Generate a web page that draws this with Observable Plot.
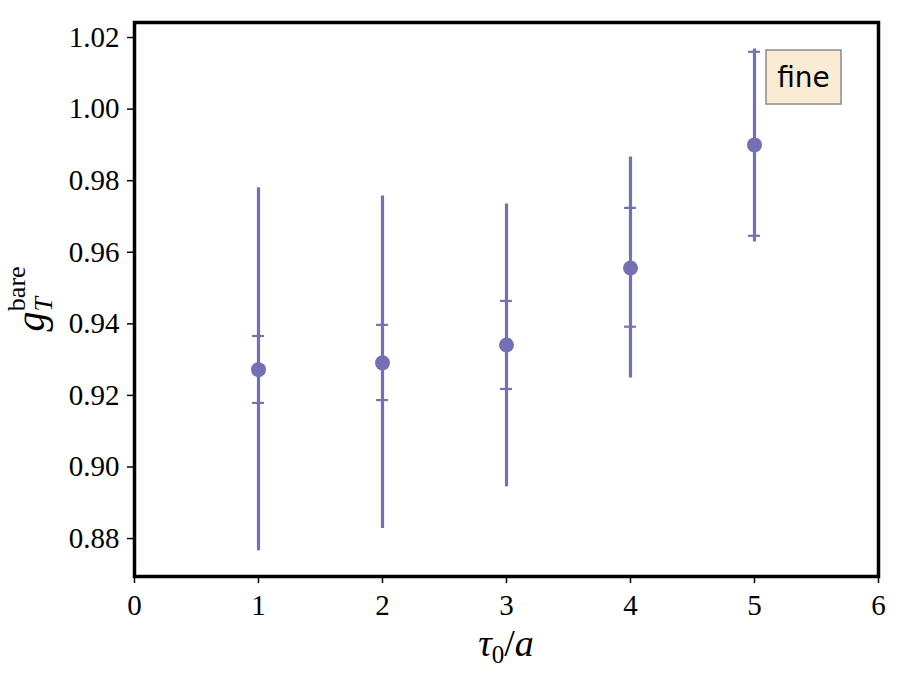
<!DOCTYPE html>
<html>
<head>
<meta charset="utf-8">
<script src="https://cdn.jsdelivr.net/npm/d3@7"></script>
<script src="https://cdn.jsdelivr.net/npm/@observablehq/plot@0.6"></script>
<style>
  html, body { margin: 0; padding: 0; background: #fff; }
  #chart svg { display: block; }
</style>
</head>
<body>
<div id="chart"></div>
<script>
const tau = [1, 2, 3, 4, 5];
const gMean = [0.9272, 0.9291, 0.9341, 0.9556, 0.9900];
const outerLo = [0.8766, 0.8828, 0.8945, 0.9249, 0.9629];
const outerHi = [0.9780, 0.9757, 0.9735, 0.9866, 1.0168];
const innerLo = [0.9179, 0.9187, 0.9218, 0.9392, 0.9646];
const innerHi = [0.9366, 0.9397, 0.9464, 0.9724, 1.0160];
const xTicks = [0, 1, 2, 3, 4, 5, 6];
const yTicks = [0.88, 0.90, 0.92, 0.94, 0.96, 0.98, 1.00, 1.02];
const legendLabel = "fine";

const color = "#7570b3";
const capHalf = 0.048;
const serif = "Liberation Serif, DejaVu Serif, serif";

const data = tau.map((t, i) => ({
  x: t, y: gMean[i], lo: outerLo[i], hi: outerHi[i], ilo: innerLo[i], ihi: innerHi[i]
}));
const caps = data.flatMap(d => [{x: d.x, y: d.ilo}, {x: d.x, y: d.ihi}]);

const W = 901, H = 680;
const mL = 134, mR = 23, mT = 22, mB = 104;

const plot = Plot.plot({
  width: W,
  height: H,
  marginLeft: mL,
  marginRight: mR,
  marginTop: mT,
  marginBottom: mB,
  style: {fontFamily: serif, fontSize: "29px", background: "#fff", color: "#000"},
  x: {domain: [0, 6], ticks: xTicks, label: null},
  y: {domain: [0.8694, 1.0242], ticks: yTicks, label: null},
  marks: [
    Plot.ruleX(data, {x: "x", y1: "lo", y2: "hi", stroke: color, strokeWidth: 3.2}),
    Plot.ruleY(caps, {y: "y", x1: d => d.x - capHalf, x2: d => d.x + capHalf, stroke: color, strokeWidth: 2.2}),
    Plot.dot(data, {x: "x", y: "y", r: 7.5, fill: color, stroke: "none"}),
    Plot.axisX({ticks: xTicks, tickSize: 7, tickPadding: 11, tickFormat: d3.format("d"), stroke: "#000", strokeWidth: 1.5, fontSize: 29, fontFamily: serif, label: null}),
    Plot.axisY({ticks: yTicks, tickSize: 7, tickPadding: 8, tickFormat: d3.format(".2f"), stroke: "#000", strokeWidth: 1.5, fontSize: 29, fontFamily: serif, label: null}),
    Plot.frame({stroke: "#000", strokeWidth: 3.5})
  ]
});

document.getElementById("chart").appendChild(plot);

const svg = d3.select(plot);
svg.selectAll("text")
  .attr("font-family", serif)
  .attr("font-size", 29)
  .attr("fill", "#000");

// x axis label: τ0/a
const xl = svg.append("text")
  .attr("x", mL + (W - mL - mR) / 2)
  .attr("y", 656)
  .attr("text-anchor", "middle")
  .attr("font-family", serif)
  .attr("font-size", 38)
  .attr("fill", "#000");
xl.append("tspan").attr("font-style", "italic").text("τ");
xl.append("tspan").attr("font-size", 25).attr("dy", 7).text("0");
xl.append("tspan").attr("dy", -7).text("/");
xl.append("tspan").attr("font-style", "italic").text("a");

// y axis label: g_T^bare
const yl = svg.append("text")
  .attr("transform", `translate(44, ${mT + (H - mT - mB) / 2}) rotate(-90)`)
  .attr("text-anchor", "middle")
  .attr("font-family", serif)
  .attr("font-size", 40)
  .attr("fill", "#000");
yl.append("tspan").attr("font-style", "italic").text("g");
yl.append("tspan").attr("font-size", 26).attr("font-style", "italic").attr("dy", 8).text("T");
yl.append("tspan").attr("font-size", 26).attr("dx", -14).attr("dy", -27).text("bare");

// legend box
const lg = svg.append("g");
lg.append("rect")
  .attr("x", 766).attr("y", 50).attr("width", 75).attr("height", 54)
  .attr("fill", "#fbebd5").attr("stroke", "#8a8a8a").attr("stroke-width", 1.5);
lg.append("text")
  .attr("x", 803.5).attr("y", 87)
  .attr("text-anchor", "middle")
  .attr("font-family", "DejaVu Sans, sans-serif")
  .attr("font-size", 28)
  .attr("fill", "#000")
  .text(legendLabel);
</script>
</body>
</html>
